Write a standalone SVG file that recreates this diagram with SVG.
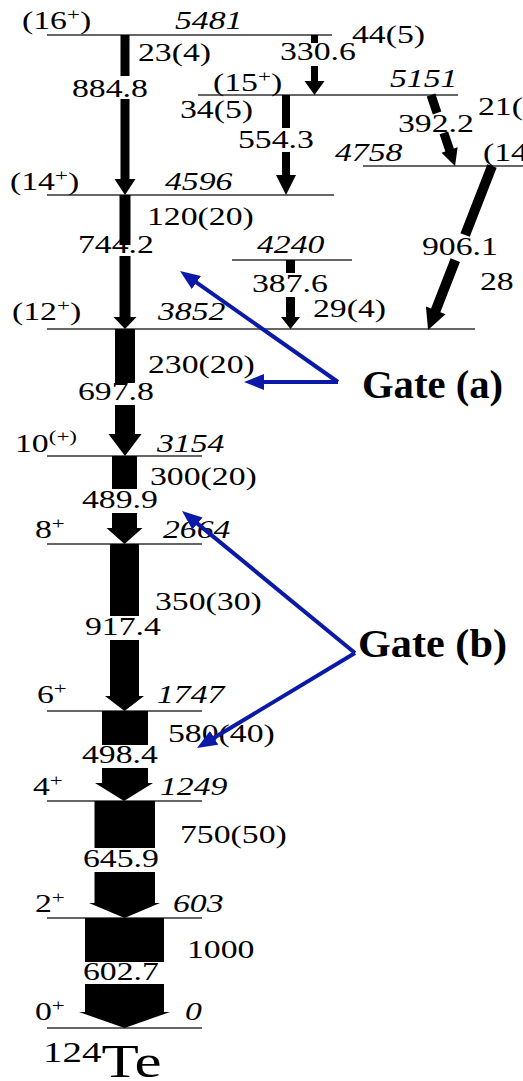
<svg xmlns="http://www.w3.org/2000/svg" width="523" height="1081" viewBox="0 0 523 1081">
<defs>
<style>
.t{font-family:'Liberation Serif','Times New Roman',serif;font-size:25px;fill:#000}
.i{font-style:italic}
.sup{font-size:17px}
.lv{stroke:#333;stroke-width:1.3;fill:none}
.ar{fill:#000;stroke:none}
.gl{stroke:#0B19A8;stroke-width:4;fill:none;marker-end:url(#bh)}
.g{font-family:'Liberation Serif','Times New Roman',serif;font-size:39px;font-weight:bold;fill:#000}
</style>
<marker id="bh" viewBox="0 0 10 8" refX="2" refY="4" markerWidth="5" markerHeight="4" orient="auto" markerUnits="strokeWidth">
<path d="M0,0 L10,4 L0,8 z" fill="#0B19A8"/>
</marker>
</defs>
<rect width="523" height="1081" fill="#fff"/>

<!-- levels -->
<g id="lvl-5481">
<line class="lv" x1="47" y1="35" x2="332" y2="35"/>
<text class="t" transform="translate(22,29) scale(1.35,1)">(16<tspan class="sup" dy="-9">+</tspan><tspan dy="9">)</tspan></text>
<text class="t i" transform="translate(175,29) scale(1.35,1)">5481</text>
</g>
<g id="lvl-5151">
<line class="lv" x1="198" y1="95" x2="458" y2="95"/>
<text class="t" transform="translate(213,91) scale(1.35,1)">(15<tspan class="sup" dy="-9">+</tspan><tspan dy="9">)</tspan></text>
<text class="t i" transform="translate(390,87) scale(1.35,1)">5151</text>
</g>
<g id="lvl-4758">
<line class="lv" x1="363" y1="166" x2="523" y2="166"/>
<text class="t i" transform="translate(335,161) scale(1.35,1)">4758</text>
<text class="t" transform="translate(483,161) scale(1.35,1)">(14</text>
</g>
<g id="lvl-4596">
<line class="lv" x1="47" y1="195" x2="334" y2="195"/>
<text class="t" transform="translate(10,190) scale(1.35,1)">(14<tspan class="sup" dy="-9">+</tspan><tspan dy="9">)</tspan></text>
<text class="t i" transform="translate(165,190) scale(1.35,1)">4596</text>
</g>
<g id="lvl-4240">
<line class="lv" x1="232" y1="260" x2="352" y2="260"/>
<text class="t i" transform="translate(257,253) scale(1.35,1)">4240</text>
</g>
<g id="lvl-3852">
<line class="lv" x1="47" y1="329" x2="475" y2="329"/>
<text class="t" transform="translate(12,320) scale(1.35,1)">(12<tspan class="sup" dy="-9">+</tspan><tspan dy="9">)</tspan></text>
<text class="t i" transform="translate(158,320) scale(1.35,1)">3852</text>
</g>
<g id="lvl-3154">
<line class="lv" x1="47" y1="456" x2="202" y2="456"/>
<text class="t" transform="translate(15,452) scale(1.35,1)">10<tspan class="sup" dy="-10">(+)</tspan></text>
<text class="t i" transform="translate(157,452) scale(1.35,1)">3154</text>
</g>
<g id="lvl-2664">
<line class="lv" x1="47" y1="544" x2="202" y2="544"/>
<text class="t" transform="translate(35,538) scale(1.35,1)">8<tspan class="sup" dy="-9">+</tspan></text>
<text class="t i" transform="translate(163,538) scale(1.35,1)">2664</text>
</g>
<g id="lvl-1747">
<line class="lv" x1="47" y1="711" x2="202" y2="711"/>
<text class="t" transform="translate(37,703) scale(1.35,1)">6<tspan class="sup" dy="-9">+</tspan></text>
<text class="t i" transform="translate(157,703) scale(1.35,1)">1747</text>
</g>
<g id="lvl-1249">
<line class="lv" x1="47" y1="801" x2="202" y2="801"/>
<text class="t" transform="translate(33,795) scale(1.35,1)">4<tspan class="sup" dy="-9">+</tspan></text>
<text class="t i" transform="translate(160,795) scale(1.35,1)">1249</text>
</g>
<g id="lvl-603">
<line class="lv" x1="47" y1="918" x2="202" y2="918"/>
<text class="t" transform="translate(35,912) scale(1.35,1)">2<tspan class="sup" dy="-9">+</tspan></text>
<text class="t i" transform="translate(173,912) scale(1.35,1)">603</text>
</g>
<g id="lvl-0">
<line class="lv" x1="47" y1="1028" x2="202" y2="1028"/>
<text class="t" transform="translate(35,1020) scale(1.35,1)">0<tspan class="sup" dy="-9">+</tspan></text>
<text class="t i" transform="translate(185,1020) scale(1.35,1)">0</text>
</g>

<g id="nucleus">
<text class="t" transform="translate(43,1077) scale(1.3,1)"><tspan font-size="30" dy="-15">124</tspan><tspan font-size="47" dy="15">Te</tspan></text>
</g>

<!-- transitions -->
<g id="connectors">
<g id="g884">
<path class="ar" d="M120.5,35h9v41h-9z M120.5,99h9v80h-9z M114.5,179h21l-10.5,16z"/>
<text class="t" transform="translate(138,61) scale(1.35,1)">23(4)</text>
<text class="t" transform="translate(72,97) scale(1.35,1)">884.8</text>
</g>
<g id="g330">
<path class="ar" d="M311,35h7v8h-7z M311,66h7v15h-7z M304.5,81h20l-10,14z"/>
<text class="t" transform="translate(352,43) scale(1.35,1)">44(5)</text>
<text class="t" transform="translate(280,60) scale(1.35,1)">330.6</text>
</g>
<g id="g554">
<path class="ar" d="M282,95h8v33h-8z M282,152h8v23h-8z M276,175h20l-10,20z"/>
<text class="t" transform="translate(180,118) scale(1.35,1)">34(5)</text>
<text class="t" transform="translate(238,148) scale(1.35,1)">554.3</text>
</g>
<g id="g392">
<path class="ar" transform="translate(431,95) rotate(-18.7)" d="M-4.5,0h9v19h-9z M-4.5,40h9v18h-9z M-8.5,58h17l-8.5,17z"/>
<text class="t" transform="translate(478,115) scale(1.35,1)">21(</text>
<text class="t" transform="translate(398,132) scale(1.35,1)">392.2</text>
</g>
<g id="g906">
<path class="ar" transform="translate(492,166) rotate(21.3)" d="M-5,0h10v74h-10z M-5,101h10v54h-10z M-10.5,155h21l-10.5,21z"/>
<text class="t" transform="translate(422,255) scale(1.35,1)">906.1</text>
<text class="t" transform="translate(480,290) scale(1.35,1)">28</text>
</g>
<g id="g744">
<path class="ar" d="M119.5,195h11v50h-11z M119.5,256h11v61h-11z M113.5,317h23l-11.5,12z"/>
<text class="t" transform="translate(147,225) scale(1.35,1)">120(20)</text>
<text class="t" transform="translate(78,253) scale(1.35,1)">744.2</text>
</g>
<g id="g387">
<path class="ar" d="M286,260h9v13h-9z M286,297h9v20h-9z M281,317h19l-9.5,12z"/>
<text class="t" transform="translate(252,292) scale(1.35,1)">387.6</text>
<text class="t" transform="translate(313,317) scale(1.35,1)">29(4)</text>
</g>
<g id="g697">
<path class="ar" d="M115,329h20v54h-20z M115,405h20v29h-20z M108.5,434h33l-16.5,22z"/>
<text class="t" transform="translate(148,373) scale(1.35,1)">230(20)</text>
<text class="t" transform="translate(78,400) scale(1.35,1)">697.8</text>
</g>
<g id="g489">
<path class="ar" d="M112,456h25v33h-25z M112,513h25v15h-25z M106.5,528h36l-18,16z"/>
<text class="t" transform="translate(150,485) scale(1.35,1)">300(20)</text>
<text class="t" transform="translate(82,508) scale(1.35,1)">489.9</text>
</g>
<g id="g917">
<path class="ar" d="M110,544h29v72h-29z M110,640h29v56h-29z M105,696h39l-19.5,15z"/>
<text class="t" transform="translate(155,610) scale(1.35,1)">350(30)</text>
<text class="t" transform="translate(85,635) scale(1.35,1)">917.4</text>
</g>
<g id="g498">
<path class="ar" d="M102,711h46v34h-46z M102,768h46v15h-46z M95,783h58l-29,18z"/>
<text class="t" transform="translate(168,742) scale(1.35,1)">580(40)</text>
<text class="t" transform="translate(82,763) scale(1.35,1)">498.4</text>
</g>
<g id="g645">
<path class="ar" d="M94.5,801h60.5v47h-60.5z M94.5,872h60.5v31h-60.5z M89,903h71l-35.5,15z"/>
<text class="t" transform="translate(180,843) scale(1.35,1)">750(50)</text>
<text class="t" transform="translate(83,867) scale(1.35,1)">645.9</text>
</g>
<g id="g602">
<path class="ar" d="M85,918h79v44h-79z M85,984h79v28h-79z M79,1012h91l-45.5,16z"/>
<text class="t" transform="translate(187,958) scale(1.35,1)">1000</text>
<text class="t" transform="translate(83,980) scale(1.35,1)">602.7</text>
</g>

<g id="gate-a">
<line class="gl" x1="338" y1="382" x2="193.1" y2="280.2"/>
<line class="gl" x1="338" y1="382" x2="260" y2="382"/>
<text class="g" x="362" y="398" textLength="141" lengthAdjust="spacingAndGlyphs">Gate (a)</text>
</g>
<g id="gate-b">
<line class="gl" x1="355" y1="653" x2="194.4" y2="521.1"/>
<line class="gl" x1="355" y1="653" x2="210.7" y2="739.8"/>
<text class="g" x="358" y="657" textLength="149" lengthAdjust="spacingAndGlyphs">Gate (b)</text>
</g>
</g>
</svg>
